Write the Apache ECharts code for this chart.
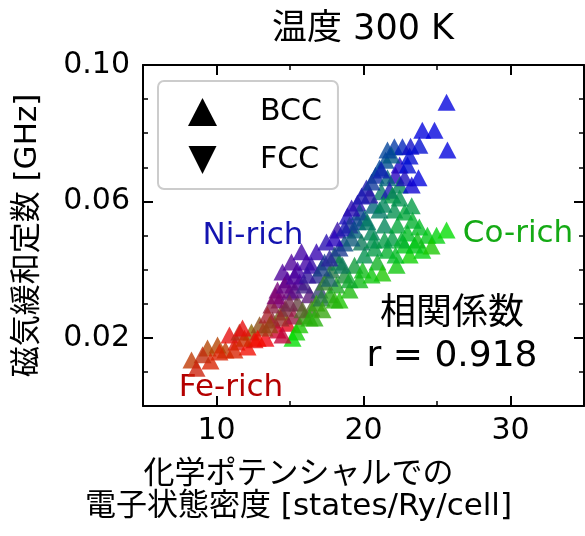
<!DOCTYPE html>
<html><head><meta charset="utf-8">
<script src="https://cdn.jsdelivr.net/npm/echarts@6/dist/echarts.min.js"></script>
<style>html,body{margin:0;padding:0;background:#fff}#c{width:585px;height:536px}</style>
</head><body><div id="c"></div>
<script>
// DOS at chemical potential [states/Ry/cell]
const xValues = [8.30,8.64,9.39,9.59,10.61,10.88,11.36,11.56,12.11,12.38,12.59,12.93,13.33,13.81,14.15,14.83,14.42,15.44,15.17,15.65,10.07,11.90,13.27,
14.29,14.97,14.69,15.65,15.51,16.33,14.15,14.83,15.51,16.12,16.46,17.01,16.87,15.24,15.99,16.67,
16.80,17.48,18.23,18.91,19.59,20.20,20.82,21.50,22.10,22.65,23.20,23.80,22.46,22.18,23.00,25.65,24.00,24.83,25.71,23.74,
17.35,18.03,18.71,19.39,20.07,20.68,21.22,21.63,21.09,20.41,19.73,19.05,17.82,18.37,21.90,22.46,22.80,21.77,
16.80,17.69,18.17,19.05,18.71,19.73,19.39,19.94,20.07,20.95,21.29,20.75,21.63,22.25,21.97,21.43,22.32,23.00,23.14,22.80,23.80,24.00,24.35,24.97,25.65,
22.10,22.80,21.97,21.09,20.55,19.87,23.34,17.35,18.37,24.63,23.67,13.74,13.47,14.49,15.10,15.78,
14.01,14.63,15.31,15.99,15.31,16.19,16.46,14.97,15.85,14.36,17.14,17.69,17.14,17.69,18.37,18.03,18.71,19.19,19.59,19.19,19.87,20.55,21.22,21.63,23.14,
21.36,20.27,20.68,21.43,18.57,19.05,18.03,17.21,16.33,20.55,22.18,22.59,23.48,23.28,22.46,23.28,
9.05,10.20,11.22,11.77,12.80,13.61,14.49];
// magnetic damping constant [GHz]
const yValues = [0.0135,0.0111,0.0170,0.0132,0.0164,0.0208,0.0188,0.0217,0.0173,0.0217,0.0194,0.0238,0.0199,0.0252,0.0223,0.0243,0.0276,0.0217,0.0199,0.0238,0.0179,0.0199,0.0229,
0.0311,0.0334,0.0287,0.0364,0.0302,0.0326,0.0340,0.0370,0.0399,0.0422,0.0287,0.0340,0.0384,0.0264,0.0264,0.0258,
0.0452,0.0481,0.0516,0.0557,0.0595,0.0639,0.0677,0.0721,0.0760,0.0760,0.0762,0.0765,0.0707,0.0677,0.0707,0.0891,0.0809,0.0809,0.0751,0.0669,
0.0422,0.0443,0.0478,0.0516,0.0551,0.0589,0.0628,0.0669,0.0698,0.0619,0.0569,0.0531,0.0399,0.0422,0.0736,0.0648,0.0669,0.0633,
0.0302,0.0326,0.0355,0.0340,0.0384,0.0370,0.0413,0.0399,0.0443,0.0422,0.0390,0.0463,0.0457,0.0413,0.0493,0.0531,0.0531,0.0507,0.0443,0.0472,0.0525,0.0457,0.0501,0.0501,0.0516,
0.0575,0.0569,0.0619,0.0575,0.0510,0.0481,0.0545,0.0364,0.0311,0.0469,0.0487,0.0296,0.0267,0.0393,0.0422,0.0452,
0.0323,0.0355,0.0340,0.0355,0.0381,0.0384,0.0413,0.0302,0.0282,0.0258,0.0317,0.0375,0.0405,0.0434,0.0463,0.0493,0.0522,0.0493,0.0540,0.0581,0.0616,0.0657,0.0692,0.0751,0.0733,
0.0592,0.0540,0.0487,0.0487,0.0413,0.0370,0.0311,0.0282,0.0258,0.0384,0.0443,0.0487,0.0472,0.0587,0.0610,0.0648,
0.0150,0.0158,0.0164,0.0229,0.0199,0.0238,0.0208];
// composition (%) Fe / Co / Ni
const feShare = [75,80,70,85,75,90,85,70,95,55,90,55,95,55,80,90,45,5,0,10,70,80,65,
50,40,50,30,40,35,45,35,25,25,30,20,15,60,25,15,
20,15,20,10,15,10,5,0,0,0,5,0,10,15,0,0,0,0,0,0,
10,10,5,0,0,0,0,0,0,15,5,10,15,5,0,0,10,10,
20,15,10,10,10,5,5,5,0,5,10,0,0,5,0,0,0,0,5,0,0,0,0,0,0,
0,0,0,0,0,5,0,20,10,10,5,55,65,30,30,25,
50,40,35,25,30,20,20,45,35,60,15,10,10,15,10,15,10,5,5,15,10,5,5,0,0,
0,0,0,0,5,5,15,20,15,5,0,0,0,0,0,5,
75,85,85,90,95,60,75];
const coShare = [25,15,30,15,25,5,10,20,5,45,5,35,0,20,0,0,45,95,100,90,30,20,25,
0,5,20,0,30,10,0,0,0,0,50,30,20,10,65,80,
0,5,5,5,5,10,20,35,25,15,5,5,0,0,5,0,0,0,0,0,
25,40,35,45,50,45,55,45,30,10,30,25,55,60,40,60,5,10,
75,75,75,85,65,85,70,85,65,80,90,70,80,90,70,60,75,85,95,90,85,95,90,95,100,
65,75,70,55,60,55,80,60,90,90,85,15,15,0,0,0,
0,0,5,15,0,10,5,20,45,20,55,45,30,15,25,0,10,40,30,5,10,25,15,30,5,
60,55,65,70,55,75,80,75,80,90,85,80,90,70,65,0,
20,15,15,5,5,30,0];
const niShare = [0,5,0,0,0,5,5,10,0,0,5,10,5,25,20,10,10,0,0,0,0,0,10,
50,55,30,70,30,55,55,65,75,75,20,50,65,30,10,5,
80,80,75,85,80,80,75,65,75,85,90,95,90,85,95,100,100,100,100,100,
65,50,60,55,50,55,45,55,70,75,65,65,30,35,60,40,85,80,
5,10,15,5,25,10,25,10,35,15,0,30,20,5,30,40,25,15,0,10,15,5,10,5,0,
35,25,30,45,40,40,20,20,0,0,10,30,20,70,70,75,
50,60,60,60,70,70,75,35,20,20,30,45,60,70,65,85,80,55,65,80,80,70,80,70,95,
40,45,35,30,40,20,5,5,5,5,15,20,10,30,35,95,
5,0,0,5,0,10,25];
// FCC points (none distinguishable in the picture)
const fccX = [];
const fccY = [];
const xLabelTicks = [10, 20, 30];
const yLabelTicks = [0.02, 0.06, 0.10];

const FONT = "'DejaVu Sans','Noto Sans CJK JP',sans-serif";
const bccData = xValues.map((x, i) => [x, yValues[i]]);
const fccData = fccX.map((x, i) => [x, fccY[i]]);
function compColor(i) {
  const r = Math.round(feShare[i] * 2.55), g = Math.round(coShare[i] * 2.2), b = Math.round(niShare[i] * 2.2);
  return 'rgb(' + r + ',' + g + ',' + b + ')';
}
const downTri = 'path://M0,0L10,0L5,10Z';

function mkAxis(pos, range, interval, major, opts) {
  const minorAx = Object.assign({
    type: 'value', position: pos, min: range[0], max: range[1], interval: interval,
    axisLine: { show: true, onZero: false, lineStyle: { color: '#000', width: 2 } },
    axisTick: { show: true, inside: true, length: 5, lineStyle: { color: '#000', width: 1.5 } },
    axisLabel: { show: false },
    splitLine: { show: false }
  }, opts || {});
  const majorAx = {
    type: 'value', position: pos, min: range[0], max: range[1], interval: interval,
    axisLine: { show: false, onZero: false },
    axisTick: { show: true, inside: true, length: 10, customValues: major, lineStyle: { color: '#000', width: 2 } },
    axisLabel: { show: false },
    splitLine: { show: false }
  };
  return [minorAx, majorAx];
}

const xAxes = [].concat(
  mkAxis('bottom', [5, 35], 5, xLabelTicks, {
    axisLabel: { show: true, customValues: xLabelTicks, fontSize: 30, color: '#000', margin: 10, fontFamily: FONT },
    name: '化学ポテンシャルでの\n電子状態密度 [states/Ry/cell]',
    nameLocation: 'middle', nameGap: 53,
    nameTextStyle: { fontSize: 31, color: '#000', fontFamily: FONT, lineHeight: 32, padding: [0, 130, 0, 0] }
  }),
  mkAxis('top', [5, 35], 5, xLabelTicks)
);
const yAxes = [].concat(
  mkAxis('left', [0, 0.1], 0.01, yLabelTicks, {
    axisLabel: { show: true, customValues: yLabelTicks, fontSize: 30, color: '#000', margin: 13, fontFamily: FONT,
      formatter: v => v.toFixed(2) },
    name: '磁気緩和定数 [GHz]', nameLocation: 'middle', nameGap: 100,
    nameTextStyle: { fontSize: 31, color: '#000', fontFamily: FONT }
  }),
  mkAxis('right', [0, 0.1], 0.01, yLabelTicks)
);

const chart = echarts.init(document.getElementById('c'), null, { renderer: 'canvas' });
chart.setOption({
  animation: false,
  backgroundColor: '#fff',
  title: {
    text: '温度 300 K', left: 363, top: 12, textAlign: 'center', padding: 0,
    textStyle: { fontSize: 35, fontWeight: 'normal', color: '#000', fontFamily: FONT }
  },
  grid: { left: 143, top: 65, width: 441, height: 341, containLabel: false, outerBoundsMode: 'none' },
  xAxis: xAxes,
  yAxis: yAxes,
  legend: {
    orient: 'vertical', left: 158, top: 81,
    padding: [16, 16, 14, 30], itemGap: 18, itemWidth: 29, itemHeight: 28,
    borderColor: '#cccccc', borderWidth: 2, borderRadius: 6, backgroundColor: 'rgba(255,255,255,0.8)',
    textStyle: { fontSize: 30, color: '#000', fontFamily: FONT, padding: [0, 0, 0, 38] },
    data: [
      { name: 'BCC', icon: 'triangle', itemStyle: { color: '#000', opacity: 1 } },
      { name: 'FCC', icon: downTri, itemStyle: { color: '#000', opacity: 1 } }
    ]
  },
  series: [
    {
      name: 'BCC', type: 'scatter', xAxisIndex: 0, yAxisIndex: 0,
      symbol: 'triangle', symbolSize: [18, 17],
      itemStyle: { color: p => compColor(p.dataIndex), opacity: 0.78 },
      data: bccData
    },
    {
      name: 'FCC', type: 'scatter', xAxisIndex: 0, yAxisIndex: 0,
      symbol: downTri, symbolSize: [18, 17],
      itemStyle: { color: '#000' },
      data: fccData
    }
  ],
  graphic: [
    { type: 'text', x: 253, y: 236, style: { text: 'Ni-rich', fill: '#1414b0', fontSize: 31, fontFamily: FONT, align: 'center', verticalAlign: 'middle' } },
    { type: 'text', x: 518, y: 234, style: { text: 'Co-rich', fill: '#14aa14', fontSize: 31, fontFamily: FONT, align: 'center', verticalAlign: 'middle' } },
    { type: 'text', x: 231, y: 388, style: { text: 'Fe-rich', fill: '#b40000', fontSize: 31, fontFamily: FONT, align: 'center', verticalAlign: 'middle' } },
    { type: 'text', x: 452, y: 315, style: { text: '相関係数', fill: '#000', fontSize: 36, fontFamily: FONT, align: 'center', verticalAlign: 'middle' } },
    { type: 'text', x: 452, y: 357, style: { text: 'r = 0.918', fill: '#000', fontSize: 36, fontFamily: FONT, align: 'center', verticalAlign: 'middle' } }
  ]
});
</script>
</body></html>
